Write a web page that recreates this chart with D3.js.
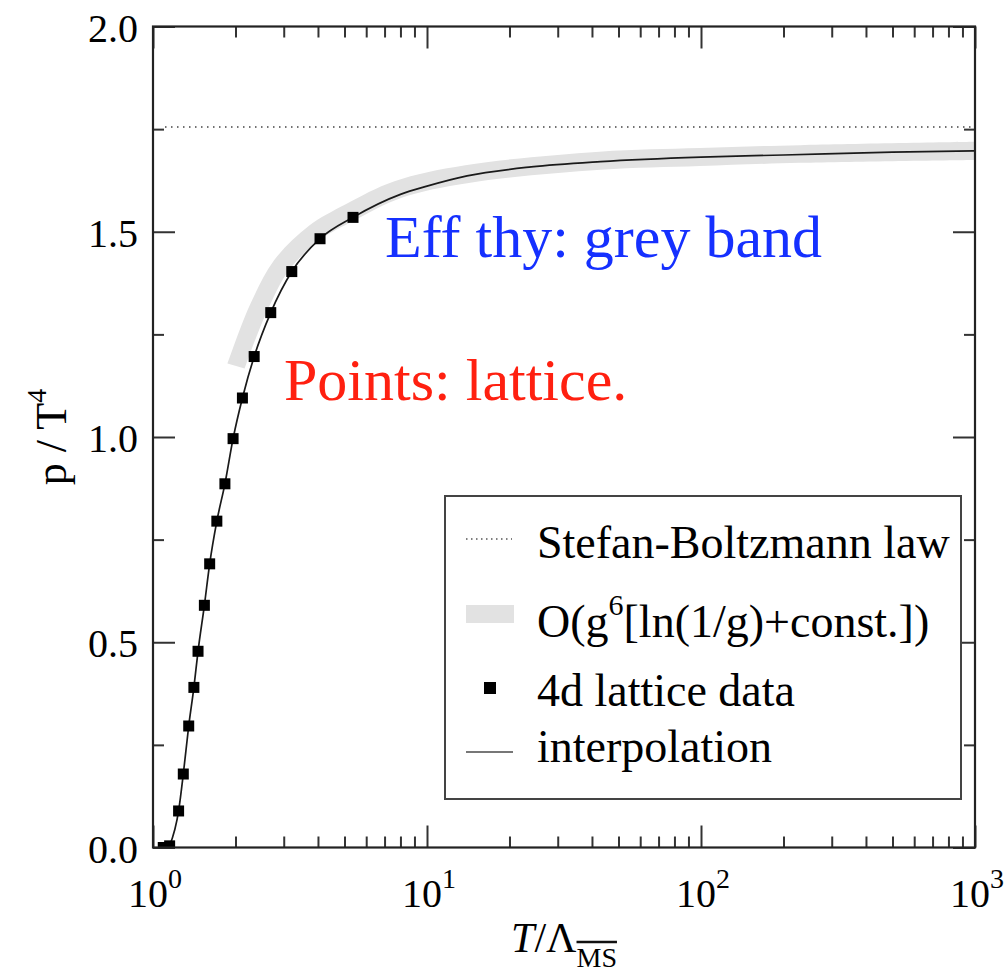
<!DOCTYPE html>
<html>
<head>
<meta charset="utf-8">
<script src="https://cdn.jsdelivr.net/npm/d3@7"></script>
<style>
  body { margin: 0; background: #fff; }
  text { font-family: "Liberation Serif", "Times New Roman", serif; }
</style>
</head>
<body>
<svg id="chart" width="1006" height="972"></svg>
<script>
// lattice data (T / Lambda_MSbar, p / T^4)
const latticeT = [1.09, 1.15, 1.24, 1.29, 1.35, 1.41, 1.46, 1.54, 1.61, 1.71, 1.83, 1.96, 2.12, 2.34, 2.69, 3.21, 4.07, 5.37]
const latticeP = [0.000, 0.004, 0.089, 0.179, 0.296, 0.390, 0.478, 0.590, 0.691, 0.795, 0.886, 0.996, 1.095, 1.196, 1.303, 1.403, 1.483, 1.535]

// interpolation curve
const interpT = [1.15, 1.24, 1.29, 1.35, 1.41, 1.46, 1.54, 1.61, 1.71, 1.83, 1.96, 2.12, 2.34, 2.69, 3.21, 4.07, 5.37, 8, 10, 14, 24, 43, 100, 200, 500, 1000]
const interpP = [0.004, 0.089, 0.179, 0.296, 0.390, 0.478, 0.590, 0.691, 0.795, 0.886, 0.996, 1.095, 1.196, 1.303, 1.403, 1.483, 1.535, 1.591, 1.611, 1.636, 1.658, 1.671, 1.682, 1.687, 1.694, 1.697]

// effective theory band, upper and lower edges
const bandUpperT = [1.87, 1.95, 2.27, 2.77, 3.70, 5.05, 7.61, 13.8, 42.6, 99.2, 230, 1000]
const bandUpperP = [1.179, 1.213, 1.325, 1.431, 1.514, 1.567, 1.623, 1.662, 1.695, 1.704, 1.711, 1.719]
const bandLowerT = [2.16, 2.25, 2.61, 3.14, 4.09, 5.44, 8.08, 14.2, 43.0, 99.2, 230, 1000]
const bandLowerP = [1.167, 1.200, 1.307, 1.407, 1.481, 1.528, 1.583, 1.619, 1.651, 1.660, 1.668, 1.675]

const sbLimit = 1.755

const xMajor = [1, 10, 100, 1000]
const xExp = ['0', '1', '2', '3']
const yMajor = [0, 0.5, 1.0, 1.5, 2.0]
const yMinor = [0.25, 0.75, 1.25, 1.75]
const legendLabels = ['Stefan-Boltzmann law', 'O(g', '4d lattice data', 'interpolation']

const svg = d3.select('#chart')
const x = d3.scaleLog().domain([1, 1000]).range([153, 975])
const y = d3.scaleLinear().domain([0, 2]).range([847.5, 26.5])

const xMinor = []
for (const d of [1, 10, 100]) for (let k = 2; k <= 9; k++) xMinor.push(k * d)

svg.append('defs').append('clipPath').attr('id', 'plot')
  .append('rect')
  .attr('x', x(1)).attr('y', y(2))
  .attr('width', x(1000) - x(1)).attr('height', y(0) - y(2))

const plot = svg.append('g').attr('clip-path', 'url(#plot)')

// grey band
const edge = d3.line().x(d => x(d[0])).y(d => y(d[1])).curve(d3.curveCatmullRom)
const up = d3.zip(bandUpperT, bandUpperP)
const lo = d3.zip(bandLowerT, bandLowerP).reverse()
plot.append('path')
  .attr('d', edge(up) + 'L' + edge(lo).slice(1) + 'Z')
  .attr('fill', '#e2e2e2')

// Stefan-Boltzmann limit
plot.append('line')
  .attr('x1', x(1) + 12).attr('x2', x(1000))
  .attr('y1', y(sbLimit)).attr('y2', y(sbLimit))
  .attr('stroke', '#444').attr('stroke-width', 1.4)
  .attr('stroke-dasharray', '1.5,4.5')

// interpolation
const curve = d3.line().x(d => x(d[0])).y(d => y(d[1])).curve(d3.curveMonotoneX)
plot.append('path')
  .attr('d', curve(d3.zip(interpT, interpP)))
  .attr('fill', 'none').attr('stroke', '#1a1a1a').attr('stroke-width', 1.7)

// lattice points
plot.selectAll('rect.pt')
  .data(d3.zip(latticeT, latticeP))
  .join('rect')
  .attr('class', 'pt')
  .attr('x', d => x(d[0]) - 5.5).attr('y', d => y(d[1]) - 5.5)
  .attr('width', 11).attr('height', 11)
  .attr('fill', '#000')

// ticks on all four sides, pointing inward
const tickAxis = (axis, tx, ty, values, size) => {
  const g = svg.append('g').attr('transform', `translate(${tx},${ty})`)
    .call(axis.tickValues(values).tickSize(-size).tickFormat(''))
  g.select('.domain').remove()
  g.selectAll('line').attr('stroke', '#333').attr('stroke-width', 2)
}
tickAxis(d3.axisBottom(x), 0, y(0), xMajor, 22)
tickAxis(d3.axisBottom(x), 0, y(0), xMinor, 11)
tickAxis(d3.axisTop(x), 0, y(2), xMajor, 22)
tickAxis(d3.axisTop(x), 0, y(2), xMinor, 11)
tickAxis(d3.axisLeft(y), x(1), 0, yMajor, 22)
tickAxis(d3.axisLeft(y), x(1), 0, yMinor, 11)
tickAxis(d3.axisRight(y), x(1000), 0, yMajor, 22)
tickAxis(d3.axisRight(y), x(1000), 0, yMinor, 11)

// frame
svg.append('rect')
  .attr('x', x(1)).attr('y', y(2))
  .attr('width', x(1000) - x(1)).attr('height', y(0) - y(2))
  .attr('fill', 'none').attr('stroke', '#222').attr('stroke-width', 2.2)

// y tick labels
svg.selectAll('text.ylab')
  .data(yMajor)
  .join('text')
  .attr('class', 'ylab')
  .attr('x', 138).attr('y', d => y(d) + 15)
  .attr('text-anchor', 'end').attr('font-size', 40)
  .text(d => d.toFixed(1))

// x tick labels 10^n
const xl = svg.selectAll('text.xlab')
  .data(d3.zip(xMajor, xExp))
  .join('text')
  .attr('class', 'xlab')
  .attr('x', d => x(d[0]) + 2).attr('y', 906.5)
  .attr('text-anchor', 'middle').attr('font-size', 40)
xl.append('tspan').text('10')
xl.append('tspan').attr('dy', -19).attr('font-size', 28).text(d => d[1])

// axis titles
const yt = svg.append('text')
  .attr('transform', 'translate(66,437) rotate(-90)')
  .attr('text-anchor', 'middle').attr('font-size', 44)
yt.append('tspan').text('p / T')
yt.append('tspan').attr('dy', -20).attr('font-size', 28).text('4')

const xt = svg.append('text')
  .attr('x', 564).attr('y', 952)
  .attr('text-anchor', 'middle').attr('font-size', 42)
xt.append('tspan').attr('font-style', 'italic').text('T')
xt.append('tspan').text('/Λ')
const ms = xt.append('tspan').attr('dy', 15).attr('font-size', 28).text('MS')
const msNode = ms.node()
const msX = msNode.getStartPositionOfChar(0).x
const msW = msNode.getComputedTextLength()
svg.append('line')
  .attr('x1', msX).attr('x2', msX + msW)
  .attr('y1', 942).attr('y2', 942)
  .attr('stroke', '#111').attr('stroke-width', 2.5)

// annotations
svg.append('text').attr('x', 385).attr('y', 257)
  .attr('font-size', 60).attr('fill', '#1530ff')
  .text('Eff thy: grey band')
svg.append('text').attr('x', 284).attr('y', 400)
  .attr('font-size', 60).attr('fill', '#ff2010')
  .text('Points: lattice.')

// legend
const lg = svg.append('g')
lg.append('rect')
  .attr('x', 445).attr('y', 496).attr('width', 516).attr('height', 303)
  .attr('fill', '#fff').attr('stroke', '#444').attr('stroke-width', 2)
const baselines = [558, 637, 706, 762]
lg.append('line')
  .attr('x1', 466).attr('x2', 512).attr('y1', 539).attr('y2', 539)
  .attr('stroke', '#555').attr('stroke-width', 1.5).attr('stroke-dasharray', '1.5,3.5')
lg.append('rect')
  .attr('x', 466).attr('y', 605).attr('width', 48).attr('height', 18)
  .attr('fill', '#e2e2e2')
lg.append('rect')
  .attr('x', 484).attr('y', 682).attr('width', 12).attr('height', 12)
  .attr('fill', '#000')
lg.append('line')
  .attr('x1', 466).attr('x2', 513).attr('y1', 752).attr('y2', 752)
  .attr('stroke', '#777').attr('stroke-width', 2)
const lt = lg.selectAll('text')
  .data(legendLabels)
  .join('text')
  .attr('x', 537).attr('y', (d, i) => baselines[i])
  .attr('font-size', 46)
  .text(d => d)
lt.filter((d, i) => i === 1).each(function () {
  const t = d3.select(this)
  t.append('tspan').attr('dy', -22).attr('font-size', 30).text('6')
  t.append('tspan').attr('dy', 22).text('[ln(1/g)+const.])')
})
</script>
</body>
</html>
